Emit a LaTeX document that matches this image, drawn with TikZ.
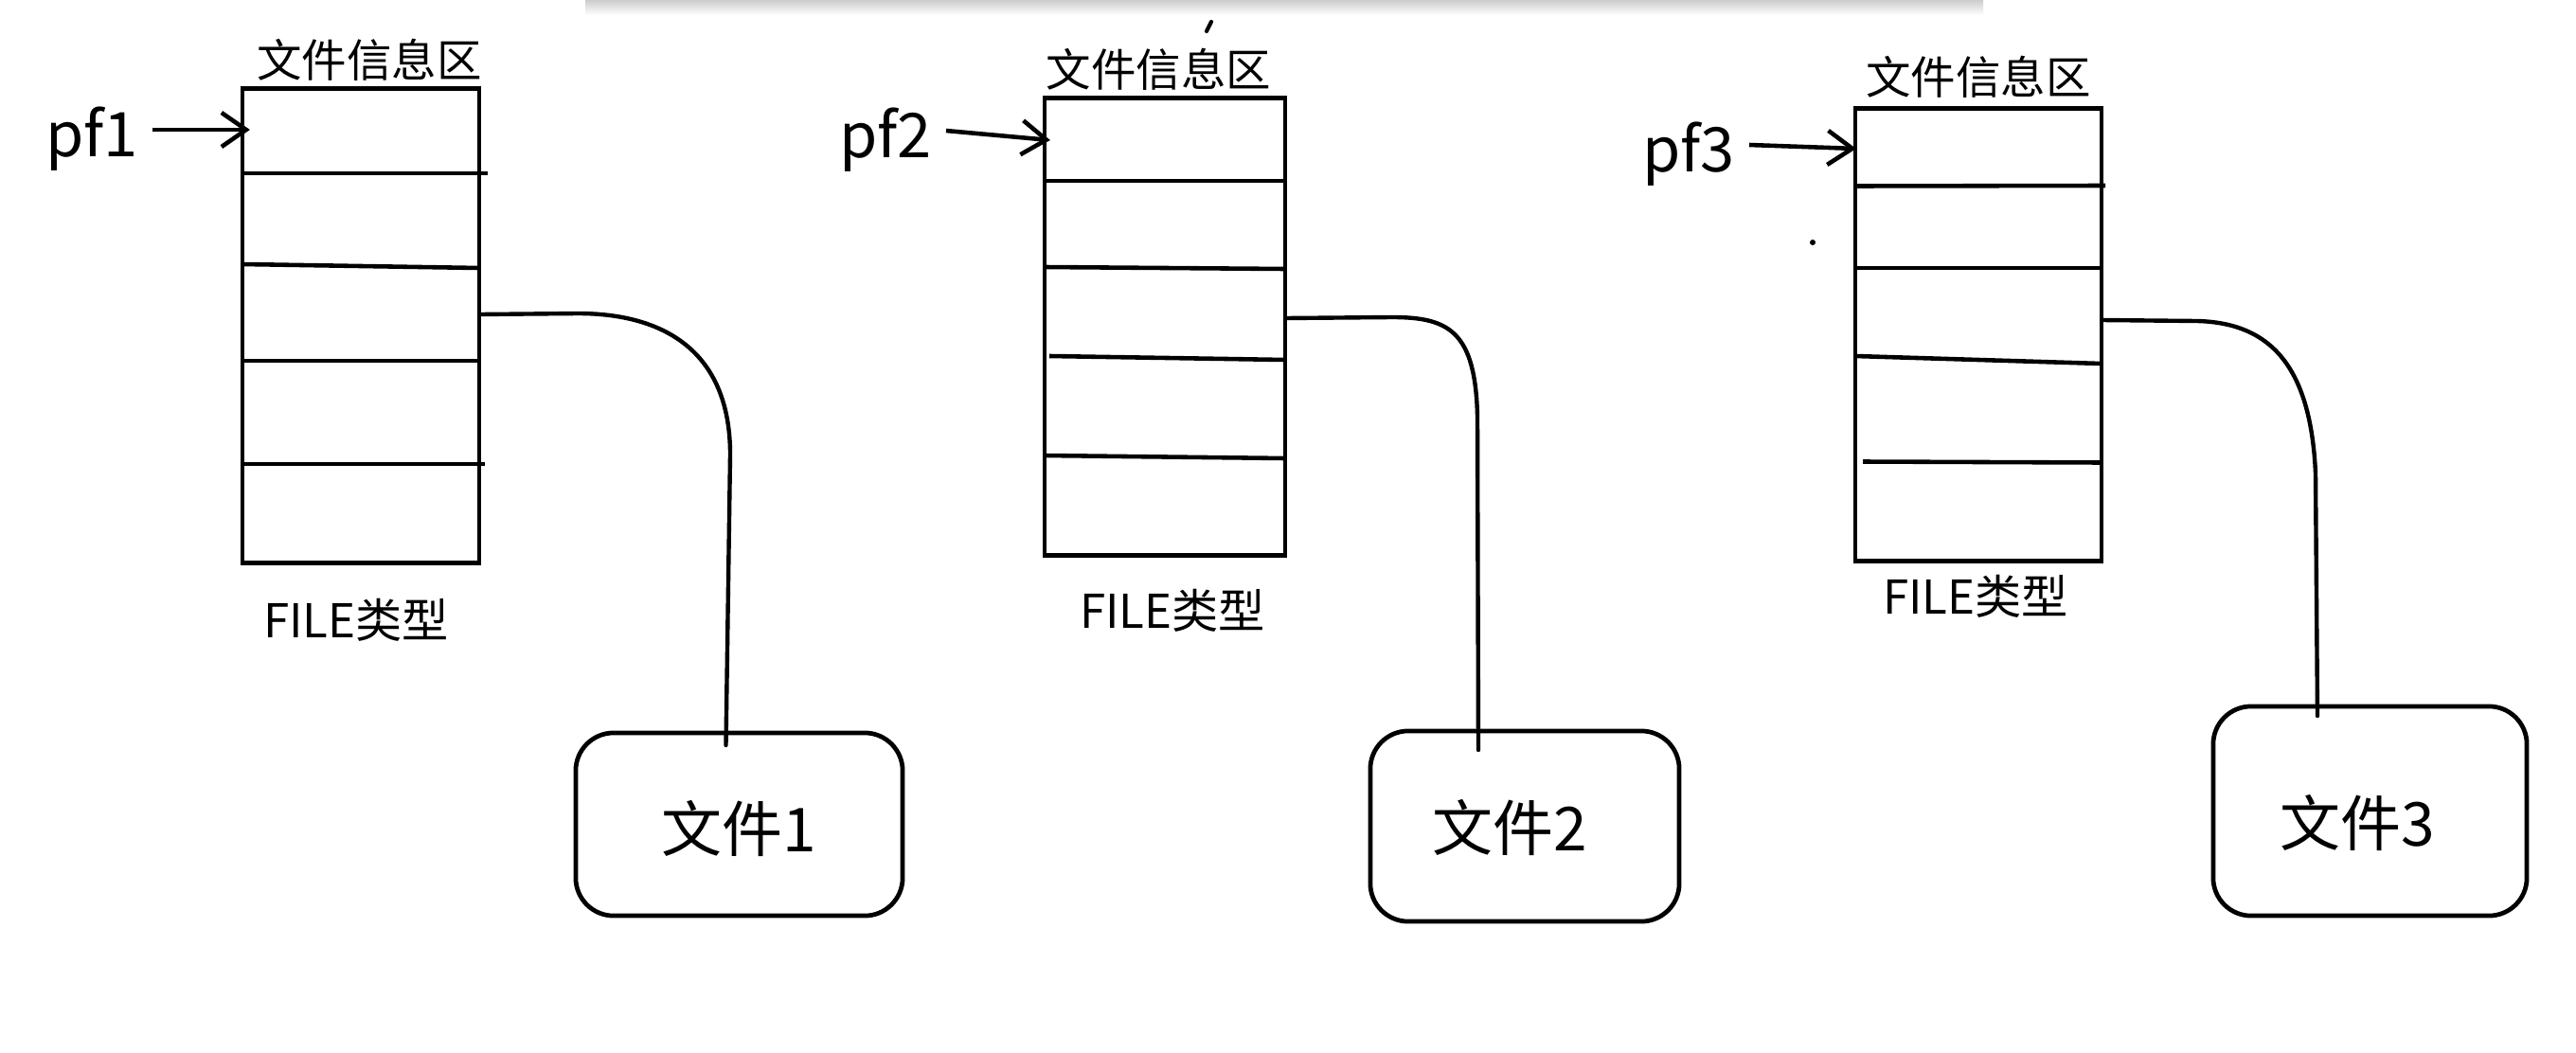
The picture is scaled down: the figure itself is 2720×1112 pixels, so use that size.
\documentclass[tikz,border=0pt]{standalone}
\usepackage{fontspec}
\newfontfamily\cjk{Noto Sans CJK SC}
\usetikzlibrary{arrows.meta,calc}
\begin{document}
\begin{tikzpicture}[x=0.01cm,y=-0.01cm,
  line width=1.3pt,
  every node/.style={inner sep=0pt, outer sep=0pt},
  infobox/.style={draw, rectangle, line width=1.35pt},
  filebox/.style={draw, rectangle, rounded corners=0.4cm, line width=1.35pt},
  rowline/.style={line width=1.3pt},
  conn/.style={line width=1.25pt, line cap=round},
  ptr/.style={-{Straight Barb[length=0.26cm,width=0.36cm]}, line width=1.3pt},
  pflabel/.style={font=\cjk\fontsize{18.5}{20}\selectfont, anchor=east, inner xsep=0.15cm, text height=0.56cm, text depth=0cm},
  head/.style={font=\cjk\fontsize{13.5}{15}\selectfont},
  typelabel/.style={font=\cjk\fontsize{14}{16}\selectfont},
  filetext/.style={font=\cjk\fontsize{18.2}{20}\selectfont},
]
\useasboundingbox (0,0) rectangle (2720,1112);
\fill[white] (0,0) rectangle (2720,1112);
% window shadow at the top
\shade[top color=black!20, bottom color=white] (618,0) rectangle (2094,16);
% stray marks
\draw[line width=1.2pt, line cap=round] (1274,33) -- (1279,23);
\fill (1914,256) circle (0.03cm);

% ---------- structure 1 ----------
\node[infobox, minimum width=2.5cm, minimum height=5cm] (b1) at (381,344) {};
\draw[rowline] (256,183) -- (515,183);
\draw[rowline] (256,279) -- (506,283);
\draw[rowline] (256,381) -- (506,381);
\draw[rowline] (256,490) -- (512,490);
\node[head] (h1) at (390,63) {文件信息区};
\node[typelabel] (t1) at (376,655) {FILE类型};
\node[pflabel] (pf1) at (161,137) {pf1};
\draw[ptr] (pf1.east) -- ($(b1.west |- pf1.east)+(8,0)$);
\node[filebox, minimum width=3.45cm, minimum height=1.93cm] (f1) at (780.5,870.5) {};
\node[filetext] (ft1) at (780,875) {文件1};
\draw[conn] ($(b1.east)+(0,-12)$) -- (610,331) .. controls (700,331) and (771,370) .. (771,480) -- ($(f1.north)+(-14,13)$);

% ---------- structure 2 ----------
\node[infobox, minimum width=2.54cm, minimum height=4.82cm] (b2) at (1230,345) {};
\draw[rowline] (1103,191) -- (1357,191);
\draw[rowline] (1103,282) -- (1357,284);
\draw[rowline] (1108,376) -- (1357,380);
\draw[rowline] (1103,481) -- (1357,484);
\node[head] (h2) at (1223.5,73.5) {文件信息区};
\node[typelabel] (t2) at (1238,645) {FILE类型};
\node[pflabel] (pf2) at (999,138) {pf2};
\draw[ptr] (pf2.east) -- ($(b2.west |- pf2.east)+(6,10)$);
\node[filebox, minimum width=3.26cm, minimum height=2.01cm] (f2) at (1610,872.5) {};
\node[filetext] (ft2) at (1594,874) {文件2};
\draw[conn] ($(b2.east)+(0,-9)$) -- (1470,335) .. controls (1530,335) and (1558,350) .. (1560,440) -- ($(f2.north)+(-49,20)$);

% ---------- structure 3 ----------
\node[infobox, minimum width=2.6cm, minimum height=4.77cm] (b3) at (2089,353.5) {};
\draw[rowline] (1959,196.5) -- (2223,196);
\draw[rowline] (1959,283) -- (2219,283);
\draw[rowline] (1959,376) -- (2219,384);
\draw[rowline] (1967,487.5) -- (2219,488.5);
\node[head] (h3) at (2089,81) {文件信息区};
\node[typelabel] (t3) at (2086,630) {FILE类型};
\node[pflabel] (pf3) at (1847,153) {pf3};
\draw[ptr] (pf3.east) -- ($(b3.west |- pf3.east)+(1,4)$);
\node[filebox, minimum width=3.31cm, minimum height=2.21cm] (f3) at (2502.5,856.5) {};
\node[filetext] (ft3) at (2489,869) {文件3};
\draw[conn] ($(b3.east)+(0,-15.5)$) -- (2320,339) .. controls (2400,341) and (2440,390) .. (2445,500) -- ($(f3.north)+(-55.5,10)$);
\end{tikzpicture}
\end{document}
